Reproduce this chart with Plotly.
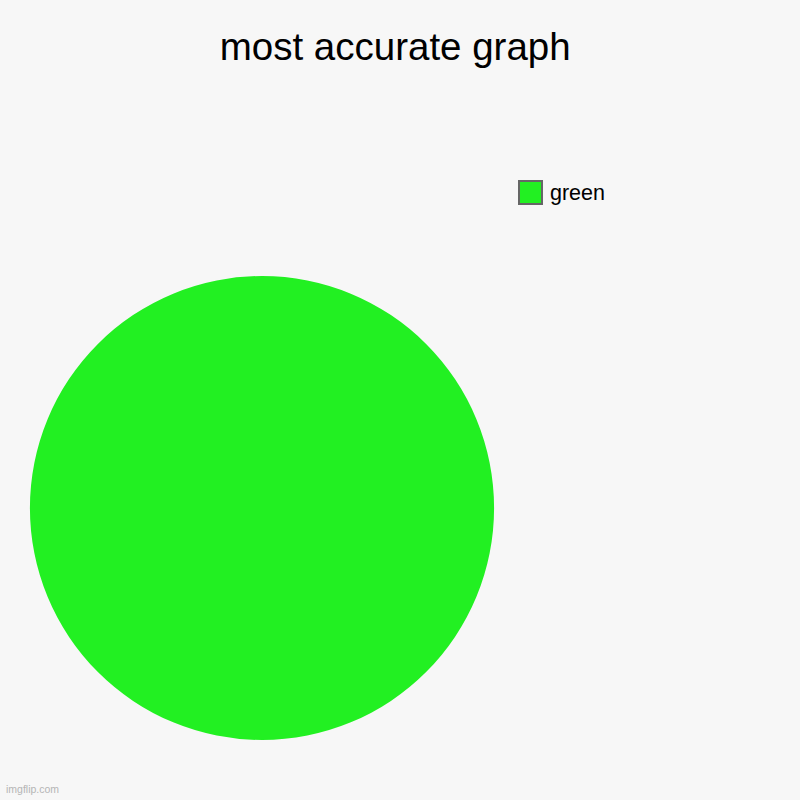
import plotly.graph_objects as go

title = "most accurate graph"
labels = ["green"]
values = [100]
colors = ["#22f022"]

fig = go.Figure()

fig.add_trace(go.Pie(
    labels=labels,
    values=values,
    marker=dict(colors=colors, line=dict(width=0)),
    textinfo="none",
    hoverinfo="label+percent",
    sort=False,
    showlegend=False,
    domain=dict(x=[30 / 800, 494 / 800], y=[60 / 800, 524 / 800]),
))

# legend drawn by hand so the swatch can be as big as the reference's
for i, (lab, col) in enumerate(zip(labels, colors)):
    y0 = 1 - (181 + i * 30) / 800
    fig.add_shape(type="rect", xref="paper", yref="paper",
                  x0=519 / 800, x1=542 / 800, y0=y0 - 23 / 800, y1=y0,
                  fillcolor=col, line=dict(color="#666666", width=2))
    fig.add_annotation(text=lab, xref="paper", yref="paper",
                       x=548 / 800, y=y0 - 11.5 / 800, xanchor="left", yanchor="middle",
                       showarrow=False, font=dict(size=21.5, color="#000000"))

fig.add_annotation(text="imgflip.com", xref="paper", yref="paper",
                   x=4 / 800, y=3 / 800, xanchor="left", yanchor="bottom",
                   showarrow=False, font=dict(size=10.5, color="#b5b5b5"))

fig.update_layout(
    width=800, height=800,
    margin=dict(l=0, r=0, t=0, b=0),
    paper_bgcolor="#f7f7f7",
    plot_bgcolor="#f7f7f7",
    font=dict(family="Liberation Sans, Arial, sans-serif"),
    title=dict(text=title, x=0.494, xanchor="center", y=1 - 47 / 800, yanchor="middle",
               font=dict(size=38.5, color="#000000")),
)

# drop the page's default body margin so the 800px figure fills the window
fig.write_html("out.html", config={"displayModeBar": False},
               post_script="document.body.style.margin='0';")
